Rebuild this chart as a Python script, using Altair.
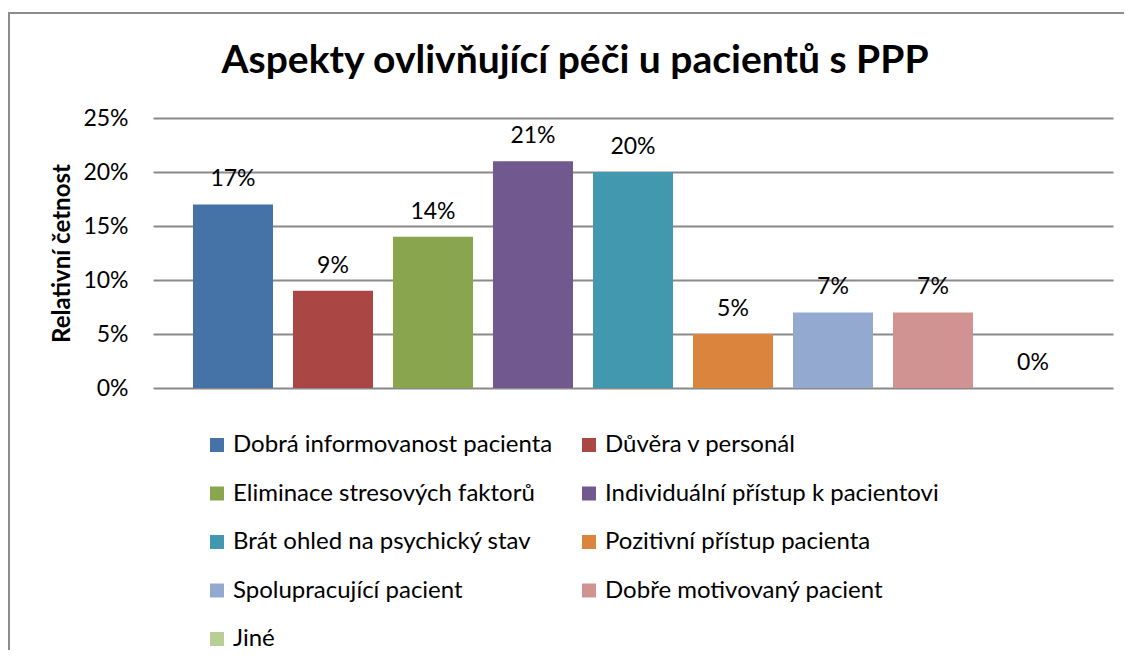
import altair as alt
import pandas as pd

categories = [
    "Dobrá informovanost pacienta",
    "Důvěra v personál",
    "Eliminace stresových faktorů",
    "Individuální přístup k pacientovi",
    "Brát ohled na psychický stav",
    "Pozitivní přístup pacienta",
    "Spolupracující pacient",
    "Dobře motivovaný pacient",
    "Jiné",
]
shares = [0.17, 0.09, 0.14, 0.21, 0.20, 0.05, 0.07, 0.07, 0.00]
colors = ["#4572A7", "#AA4643", "#89A54E", "#71588F", "#4198AF",
          "#DB843D", "#93A9CF", "#D19392", "#B9CD96"]
y_ticks = [0, 0.05, 0.10, 0.15, 0.20, 0.25]
title_text = "Aspekty ovlivňující péči u pacientů s PPP"
y_title = "Relativní četnost"

df = pd.DataFrame({"kategorie": categories, "podil": shares})

W, H = 960, 270
FONT = "Lato"
FS = 23
LFS = 24

x_enc = alt.X("kategorie:N", sort=categories,
              scale=alt.Scale(paddingInner=0.2, paddingOuter=0.4), axis=None)
y_scale = alt.Scale(domain=[0, 0.25], nice=False)

border = alt.Chart(pd.DataFrame({"b": [0]})).mark_rect(
    fillOpacity=0, stroke="#8c8c8c", strokeWidth=2
).encode(
    x=alt.value(-144), x2=alt.value(W + 100),
    y=alt.value(-105), y2=alt.value(H + 400)
)

bars = alt.Chart(df).mark_bar().encode(
    x=x_enc,
    y=alt.Y("podil:Q", scale=y_scale,
            axis=alt.Axis(values=y_ticks, format=".0%", title=y_title,
                          grid=True, gridColor="#898989", gridWidth=1.8,
                          domain=False, ticks=False,
                          labelFont=FONT, labelFontSize=FS, labelColor="black",
                          labelPadding=25,
                          titleFont=FONT, titleFontSize=24, titleFontWeight="bold",
                          titleColor="black", titleAngle=270,
                          titleX=-91, titleY=H / 2, titleBaseline="middle",
                          titleAlign="center")),
    color=alt.Color("kategorie:N", sort=categories,
                    scale=alt.Scale(domain=categories, range=colors),
                    legend=alt.Legend(title=None, orient="none",
                                      direction="horizontal",
                                      legendX=52, legendY=315, columns=2,
                                      symbolType="square", symbolSize=196,
                                      symbolStrokeWidth=0,
                                      labelFont=FONT, labelFontSize=LFS,
                                      labelColor="black", labelOffset=4,
                                      labelLimit=500,
                                      rowPadding=24.5, columnPadding=24,
                                      padding=0)),
)

labels = alt.Chart(df).mark_text(
    font=FONT, fontSize=FS, baseline="alphabetic", dy=-18, color="black"
).encode(
    x=x_enc,
    y=alt.Y("podil:Q", scale=y_scale),
    text=alt.Text("podil:Q", format=".0%"),
)

title = alt.Chart(pd.DataFrame({"t": [title_text]})).mark_text(
    font=FONT, fontSize=39, fontWeight="bold", baseline="alphabetic",
    align="center", color="black"
).encode(
    x=alt.value(422), y=alt.value(-45), text="t:N"
)

chart = alt.layer(border, bars, labels, title).properties(
    width=W, height=H,
    padding={"left": 145, "top": 110, "right": 11, "bottom": 262},
    autosize=alt.AutoSizeParams(type="none"),
).configure_view(strokeWidth=0)

chart.save("out.html", embed_options={"renderer": "svg", "actions": False})
